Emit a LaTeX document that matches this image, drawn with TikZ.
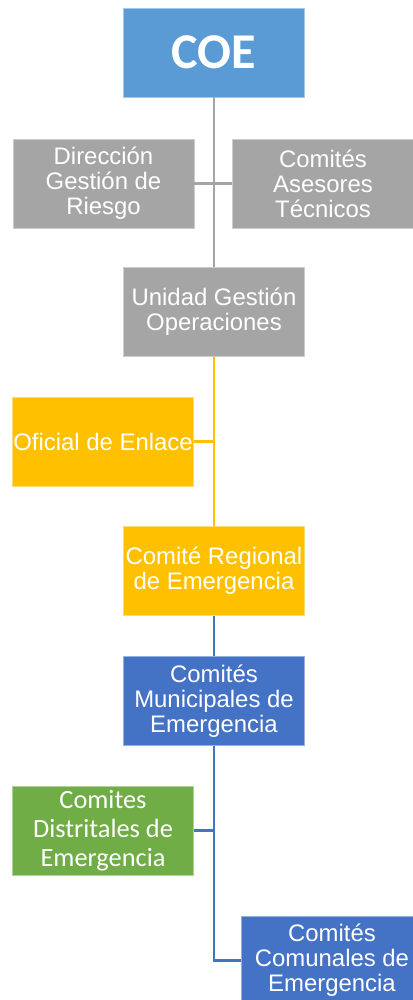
\documentclass[tikz,border=0pt]{standalone}
\usepackage{fontspec}
\setmainfont{Liberation Sans}
\newfontfamily\calibri{Carlito}
\usepackage{tikz}
\usetikzlibrary{calc}
\definecolor{coeblue}{HTML}{5B9BD5}
\definecolor{boxgray}{HTML}{A5A5A5}
\definecolor{boxgold}{HTML}{FFC000}
\definecolor{boxblue}{HTML}{4472C4}
\definecolor{boxgreen}{HTML}{70AD47}

\begin{document}
\begin{tikzpicture}[
    box/.style={fill=#1, draw=#1!55!white, line width=0.5pt, text=white,
      minimum width=3.62cm, minimum height=1.78cm, inner sep=0pt, align=center,
      font=\fontsize{13.6}{14.2}\selectfont},
    link/.style={draw=#1, line width=1.6pt}
  ]
    \useasboundingbox (0, 0) rectangle (8.26, -20);

    \node [box=coeblue, font=\calibri\bfseries\fontsize{28.5}{30}\selectfont] (coe) at (4.28, -1.05) {COE};
    \node [box=boxgray] (direccion) at (2.07, -3.67) {Dirección\\Gestión de\\Riesgo};
    \node [box=boxgray] (asesores) at (6.46, -3.67) {Comités\\Asesores\\Técnicos};
    \node [box=boxgray] (unidad) at (4.28, -6.24) {Unidad Gestión\\Operaciones};
    \node [box=boxgold] (oficial) at (2.06, -8.83) {Oficial de Enlace};
    \node [box=boxgold] (regional) at (4.28, -11.42) {Comité Regional\\de Emergencia};
    \node [box=boxblue] (municipales) at (4.28, -14.02) {Comités\\Municipales de\\Emergencia};
    \node [box=boxgreen, font=\calibri\fontsize{15}{16.6}\selectfont] (distritales) at (2.06, -16.61) {Comites\\Distritales de\\Emergencia};
    \node [box=boxblue] (comunales) at (6.64, -19.21) {Comités\\Comunales de\\Emergencia};

    % gris
    \draw [link=boxgray] (coe) -- (unidad);
    \draw [link=boxgray] (direccion) -- (asesores);
    % amarillo
    \draw [link=boxgold] (unidad) -- (regional);
    \draw [link=boxgold] (oficial.east) -- (oficial.east -| unidad.south);
    % azul
    \draw [link=boxblue] (regional) -- (municipales);
    \draw [link=boxblue] (municipales.south) |- (comunales.west);
    \draw [link=boxblue] (distritales.east) -- (distritales.east -| municipales.south);
  \end{tikzpicture}
\end{document}
